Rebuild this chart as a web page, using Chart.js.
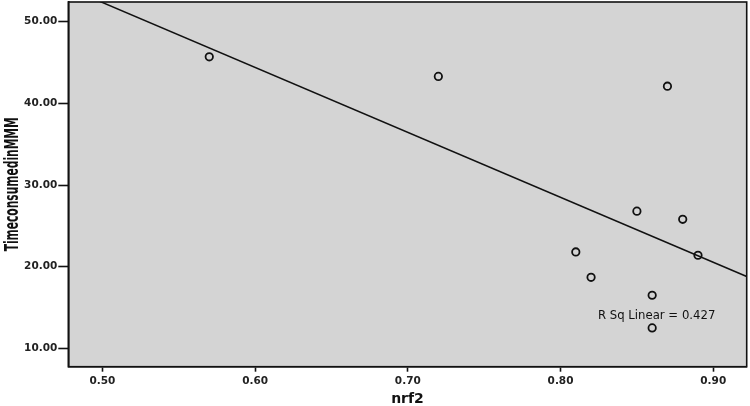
<!DOCTYPE html>
<html>
<head>
<meta charset="utf-8">
<script src="https://cdn.jsdelivr.net/npm/chart.js@4.4.1/dist/chart.umd.min.js"></script>
<style>
  html, body { margin: 0; padding: 0; background: #fff; }
  #wrap { width: 750px; height: 406px; }
</style>
</head>
<body>
<div id="wrap"><canvas id="scatterChart" width="750" height="406"></canvas></div>
<script>
// --- data ---
const nrf2Values = [0.57, 0.72, 0.87, 0.85, 0.88, 0.81, 0.89, 0.82, 0.86, 0.86];
const timeValues = [45.7, 43.3, 42.1, 26.8, 25.8, 21.8, 21.4, 18.7, 16.5, 12.5];
const xTickValues = [0.50, 0.60, 0.70, 0.80, 0.90];
const yTickValues = [10, 20, 30, 40, 50];
const xRange = [0.4777, 0.9219];
const yRange = [7.75, 52.41];
const rSqText = 'R Sq Linear = 0.427';
const rSqAt = [0.8245, 14.0];
const xTitle = 'nrf2';
const yTitle = 'TimeconsumedinMMM';

// least squares fit line
function linearFit(xs, ys) {
    const n = xs.length;
    const mx = xs.reduce((a, b) => a + b, 0) / n;
    const my = ys.reduce((a, b) => a + b, 0) / n;
    let sxy = 0, sxx = 0;
    for (let i = 0; i < n; i++) {
        sxy += (xs[i] - mx) * (ys[i] - my);
        sxx += (xs[i] - mx) * (xs[i] - mx);
    }
    const slope = sxy / sxx;
    return { slope, intercept: my - slope * mx };
}
const fit = linearFit(nrf2Values, timeValues);
const fitLine = xRange.map(x => ({ x, y: fit.intercept + fit.slope * x }));
const points = nrf2Values.map((x, i) => ({ x, y: timeValues[i] }));

const tickFont = { family: '"DejaVu Sans", sans-serif', size: 10.5, weight: 'bold' };

// grey plot area, black frame, R sq label, squeezed y title
const spssFrame = {
    id: 'spssFrame',
    beforeDraw(chart) {
        const { ctx, chartArea: a } = chart;
        ctx.save();
        ctx.fillStyle = '#d4d4d4';
        ctx.fillRect(a.left, a.top, a.right - a.left, a.bottom - a.top);
        ctx.restore();
    },
    afterDraw(chart) {
        const { ctx, chartArea: a, scales } = chart;
        ctx.save();
        ctx.strokeStyle = '#111';
        ctx.lineWidth = 1.6;
        ctx.strokeRect(a.left, a.top, a.right - a.left, a.bottom - a.top);

        ctx.fillStyle = '#111';
        ctx.font = '11.7px "DejaVu Sans", sans-serif';
        ctx.textAlign = 'left';
        ctx.textBaseline = 'middle';
        ctx.fillText(rSqText, scales.x.getPixelForValue(rSqAt[0]), scales.y.getPixelForValue(rSqAt[1]));

        // SPSS squeezes the vertical title; fit it into ~134px
        ctx.font = 'bold 20px "Liberation Sans Narrow", "DejaVu Sans Condensed", sans-serif';
        const w = ctx.measureText(yTitle).width;
        ctx.translate(17.5, (a.top + a.bottom) / 2);
        ctx.rotate(-Math.PI / 2);
        ctx.scale(134 / w, 1);
        ctx.textAlign = 'center';
        ctx.textBaseline = 'alphabetic';
        ctx.fillText(yTitle, 0, 0);
        ctx.restore();
    }
};

new Chart(document.getElementById('scatterChart'), {
    type: 'scatter',
    data: {
        datasets: [
            {
                type: 'line',
                data: fitLine,
                borderColor: '#111',
                borderWidth: 1.5,
                pointRadius: 0,
                fill: false
            },
            {
                data: points,
                pointStyle: 'circle',
                pointRadius: 3.7,
                borderWidth: 1.8,
                borderColor: '#111',
                backgroundColor: 'rgba(0,0,0,0)'
            }
        ]
    },
    options: {
        responsive: false,
        animation: false,
        layout: { autoPadding: false, padding: { top: 2, right: 3.3, left: 0, bottom: 0 } },
        plugins: { legend: { display: false }, tooltip: { enabled: false } },
        scales: {
            x: {
                type: 'linear',
                min: xRange[0],
                max: xRange[1],
                afterBuildTicks: s => { s.ticks = xTickValues.map(v => ({ value: v })); },
                afterFit: s => {
                    s.height = 39.3;
                    s.paddingLeft = 0; s.paddingRight = 0;
                },
                grid: { drawOnChartArea: false, drawTicks: true, tickLength: 5, tickColor: '#111', tickWidth: 1.6 },
                border: { display: true, color: '#111', width: 1.6 },
                ticks: {
                    font: tickFont, color: '#222', padding: 3, maxRotation: 0, autoSkip: false,
                    callback: v => Number(v).toFixed(2)
                },
                title: {
                    display: true, text: xTitle, color: '#111',
                    font: { family: '"DejaVu Sans", sans-serif', size: 14, weight: 'bold', lineHeight: 1 },
                    padding: { top: 0, bottom: 0 }
                }
            },
            y: {
                type: 'linear',
                min: yRange[0],
                max: yRange[1],
                afterBuildTicks: s => { s.ticks = yTickValues.map(v => ({ value: v })); },
                afterFit: s => {
                    s.width = 68.3;
                    s.paddingTop = 0; s.paddingBottom = 0;
                },
                grid: { drawOnChartArea: false, drawTicks: true, tickLength: 10, tickColor: '#111', tickWidth: 1.6 },
                border: { display: true, color: '#111', width: 1.6 },
                ticks: {
                    font: tickFont, color: '#222', padding: 1, autoSkip: false,
                    callback: v => Number(v).toFixed(2)
                },
                title: { display: false }
            }
        }
    },
    plugins: [spssFrame]
});
</script>
</body>
</html>
